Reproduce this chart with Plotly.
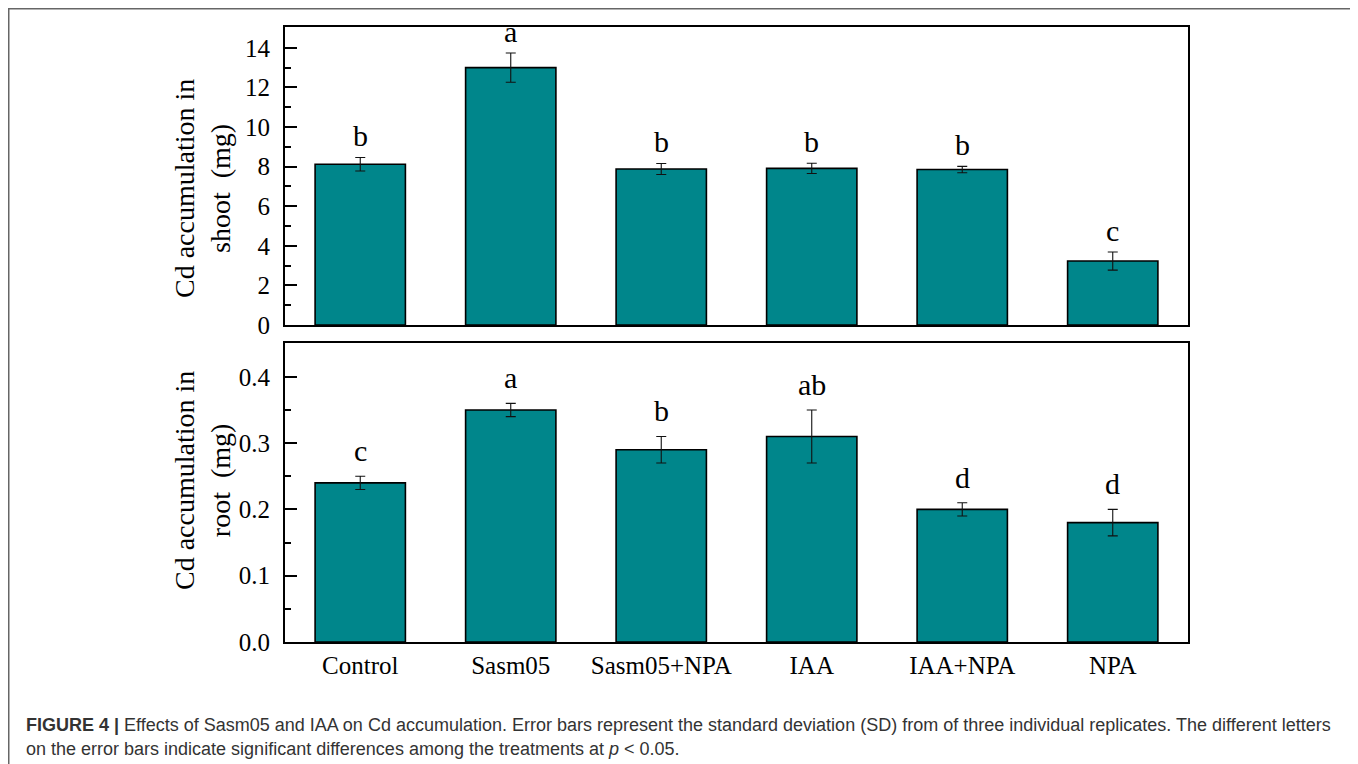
import plotly.graph_objects as go

categories = ["Control", "Sasm05", "Sasm05+NPA", "IAA", "IAA+NPA", "NPA"]
shoot_mean = [8.12, 13.0, 7.88, 7.91, 7.85, 3.23]
shoot_sd = [0.34, 0.74, 0.28, 0.26, 0.16, 0.46]
shoot_letters = ["b", "a", "b", "b", "b", "c"]
root_mean = [0.24, 0.35, 0.29, 0.31, 0.20, 0.18]
root_sd = [0.01, 0.01, 0.02, 0.04, 0.01, 0.02]
root_letters = ["c", "a", "b", "ab", "d", "d"]
shoot_ticks = [0, 2, 4, 6, 8, 10, 12, 14]
root_ticks = [0.0, 0.1, 0.2, 0.3, 0.4]
root_tick_text = ["0.0", "0.1", "0.2", "0.3", "0.4"]

OFF = 8  # page body margin
W, H = 1358 - OFF, 764 - OFF
L, R, T, B = 285 - OFF, 1188 - OFF, 27 - OFF, 642 - OFF  # plot area in px
pw, ph = R - L, B - T


def px(x):
    return (x - OFF - L) / pw


def py(y):
    return (B - (y - OFF)) / ph


BAR = "#00868B"
SERIF = "Liberation Serif, Times New Roman, serif"

fig = go.Figure()
fig.add_trace(go.Bar(
    x=categories, y=shoot_mean, width=0.6,
    marker=dict(color=BAR, line=dict(color="black", width=1.6)),
    error_y=dict(type="data", array=shoot_sd, color="#111", thickness=1.1, width=5),
    xaxis="x", yaxis="y", showlegend=False))
fig.add_trace(go.Bar(
    x=categories, y=root_mean, width=0.6,
    marker=dict(color=BAR, line=dict(color="black", width=1.6)),
    error_y=dict(type="data", array=root_sd, color="#111", thickness=1.1, width=5),
    xaxis="x2", yaxis="y2", showlegend=False))

top_dom = [py(325), 1.0]
bot_dom = [0.0, py(343)]

axis_common = dict(showline=True, linecolor="black", linewidth=2, mirror=True,
                   showgrid=False, zeroline=False)

fig.update_layout(
    width=W, height=H,
    margin=dict(l=L, r=W - R, t=T, b=H - B),
    paper_bgcolor="white", plot_bgcolor="white",
    font=dict(family=SERIF, color="black"),
    xaxis=dict(domain=[0, 1], anchor="y", range=[-0.5, 5.5], showticklabels=False,
               ticks="", **axis_common),
    yaxis=dict(domain=top_dom, anchor="x", range=[0, 15.05], tickvals=shoot_ticks,
               ticks="inside", ticklen=12, tickwidth=1.5, tickcolor="black",
               tickfont=dict(size=25, family=SERIF), ticklabelstandoff=8,
               minor=dict(dtick=1, ticks="inside", ticklen=6, tickwidth=1.5, tickcolor="black"),
               **axis_common),
    xaxis2=dict(domain=[0, 1], anchor="y2", range=[-0.5, 5.5], ticks="",
                tickfont=dict(size=25, family=SERIF), ticklabelstandoff=0,
                **axis_common),
    yaxis2=dict(domain=bot_dom, anchor="x2", range=[0, 0.451], tickvals=root_ticks,
                ticktext=root_tick_text,
                ticks="inside", ticklen=12, tickwidth=1.5, tickcolor="black",
                tickfont=dict(size=25, family=SERIF), ticklabelstandoff=8,
                minor=dict(dtick=0.05, ticks="inside", ticklen=6, tickwidth=1.5, tickcolor="black"),
                **axis_common),
)

annotations = []
for c, m, s, t in zip(categories, shoot_mean, shoot_sd, shoot_letters):
    annotations.append(dict(x=c, y=m + s, xref="x", yref="y", text=t, showarrow=False,
                            yanchor="bottom", yshift=3, font=dict(size=30, family=SERIF)))
for c, m, s, t in zip(categories, root_mean, root_sd, root_letters):
    annotations.append(dict(x=c, y=m + s, xref="x2", yref="y2", text=t, showarrow=False,
                            yanchor="bottom", yshift=7, font=dict(size=30, family=SERIF)))

annotations.append(dict(x=px(202), y=py(189), xref="paper", yref="paper", textangle=-90,
                        text="Cd accumulation in<br>shoot\u00a0\u00a0(mg)", showarrow=False,
                        xanchor="center", yanchor="middle",
                        font=dict(size=28, family=SERIF)))
annotations.append(dict(x=px(202), y=py(481), xref="paper", yref="paper", textangle=-90,
                        text="Cd accumulation in<br>root\u00a0\u00a0(mg)", showarrow=False,
                        xanchor="center", yanchor="middle",
                        font=dict(size=28, family=SERIF)))

SANS = "Liberation Sans, Arial, sans-serif"
annotations.append(dict(
    x=px(24), y=py(725), xref="paper", yref="paper", xanchor="left", yanchor="middle",
    showarrow=False, font=dict(size=18, family=SANS, color="#333333"),
    text="<b>FIGURE 4 |</b> Effects of Sasm05 and IAA on Cd accumulation. Error bars represent the standard deviation (SD) from of three individual replicates. The different letters"))
annotations.append(dict(
    x=px(24), y=py(749), xref="paper", yref="paper", xanchor="left", yanchor="middle",
    showarrow=False, font=dict(size=18, family=SANS, color="#333333"),
    text="on the error bars indicate significant differences among the treatments at <i>p</i> < 0.05."))

fig.update_layout(annotations=annotations)

fig.add_shape(type="rect", xref="paper", yref="paper",
              x0=px(8.5), x1=px(1355), y0=py(790), y1=py(8.5),
              line=dict(color="#666666", width=2), fillcolor="rgba(0,0,0,0)", layer="below")

fig.write_html("out.html")
